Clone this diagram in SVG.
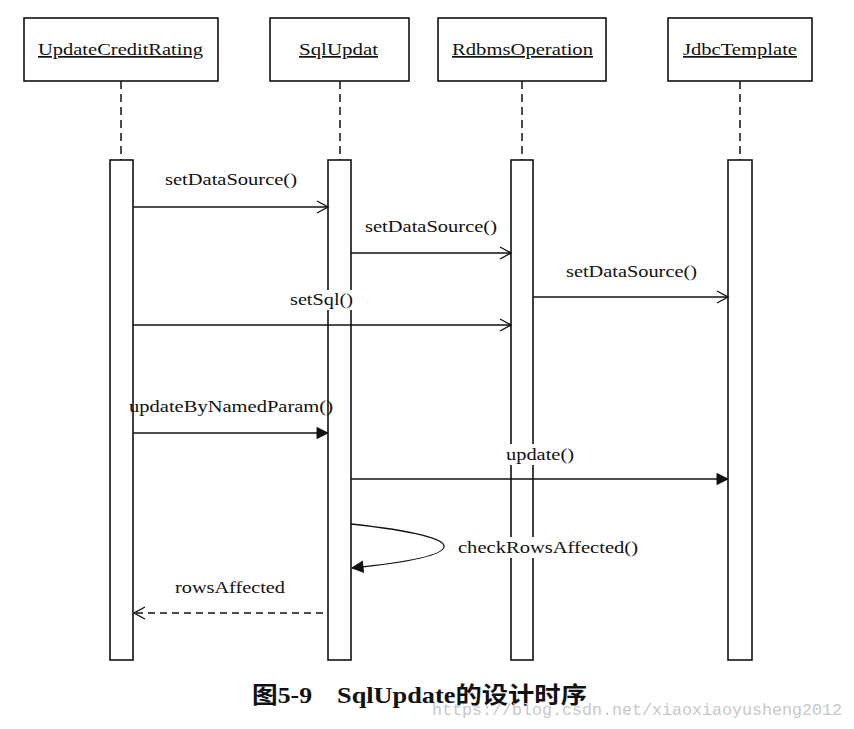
<svg xmlns="http://www.w3.org/2000/svg" width="854" height="729" viewBox="0 0 854 729">
<style>
.box{fill:#fff;stroke:#111;stroke-width:1.6}
.bar{fill:#fff;stroke:#111;stroke-width:1.6}
.life{stroke:#111;stroke-width:1.5;stroke-dasharray:8 5;fill:none}
.msg{stroke:#111;stroke-width:1.3;fill:none}
.ret{stroke:#111;stroke-width:1.3;fill:none;stroke-dasharray:7 5}
.t{font-family:"Liberation Serif","Times New Roman",serif;font-size:17px;fill:#111}
.name{font-family:"Liberation Serif","Times New Roman",serif;font-size:17px;fill:#111;text-decoration:underline}
.bg{fill:#fff}
.cap{font-family:"Liberation Serif","Noto Sans CJK SC",serif;font-size:23px;font-weight:bold;fill:#111}
.wm{font-family:"Liberation Mono","DejaVu Sans Mono",monospace;font-size:17px;fill:#c8c8c8}
</style>
<defs>
<marker id="open" markerWidth="14" markerHeight="14" refX="12" refY="7" orient="auto" markerUnits="userSpaceOnUse">
<path d="M1,1 L12,7 L1,13" fill="none" stroke="#111" stroke-width="1.4"/>
</marker>
<marker id="fill" markerWidth="14" markerHeight="14" refX="12" refY="7" orient="auto" markerUnits="userSpaceOnUse">
<path d="M1,1.5 L12,7 L1,12.5 Z" fill="#111" stroke="#111" stroke-width="1"/>
</marker>
</defs>

<g id="UpdateCreditRating">
<rect class="box" x="24" y="18" width="194" height="63"/>
<line class="life" x1="121" y1="81" x2="121" y2="160"/>
<rect class="bar" x="110" y="160" width="23" height="500"/>
<text class="name" x="38" y="55" textLength="165" lengthAdjust="spacingAndGlyphs">UpdateCreditRating</text>
</g>
<g id="SqlUpdat">
<rect class="box" x="270" y="18" width="139" height="63"/>
<line class="life" x1="340" y1="81" x2="340" y2="160"/>
<rect class="bar" x="328" y="160" width="23" height="500"/>
<text class="name" x="299" y="55" textLength="79" lengthAdjust="spacingAndGlyphs">SqlUpdat</text>
</g>
<g id="RdbmsOperation">
<rect class="box" x="438" y="18" width="168" height="63"/>
<line class="life" x1="522" y1="81" x2="522" y2="160"/>
<rect class="bar" x="511" y="160" width="22" height="500"/>
<text class="name" x="452" y="55" textLength="141" lengthAdjust="spacingAndGlyphs">RdbmsOperation</text>
</g>
<g id="JdbcTemplate">
<rect class="box" x="668" y="18" width="144" height="63"/>
<line class="life" x1="740" y1="81" x2="740" y2="160"/>
<rect class="bar" x="728" y="160" width="24" height="500"/>
<text class="name" x="683" y="55" textLength="114" lengthAdjust="spacingAndGlyphs">JdbcTemplate</text>
</g>

<g id="connectors">
<line class="msg" x1="133" y1="207" x2="328" y2="207" marker-end="url(#open)"/>
<text class="t" x="165" y="185" textLength="132" lengthAdjust="spacingAndGlyphs">setDataSource()</text>

<line class="msg" x1="351" y1="253" x2="511" y2="253" marker-end="url(#open)"/>
<text class="t" x="365" y="232" textLength="132" lengthAdjust="spacingAndGlyphs">setDataSource()</text>

<line class="msg" x1="533" y1="297" x2="728" y2="297" marker-end="url(#open)"/>
<text class="t" x="566" y="277" textLength="131" lengthAdjust="spacingAndGlyphs">setDataSource()</text>

<line class="msg" x1="133" y1="325" x2="511" y2="325" marker-end="url(#open)"/>
<rect class="bg" x="289" y="290" width="66" height="20"/>
<text class="t" x="290" y="305" textLength="63" lengthAdjust="spacingAndGlyphs">setSql()</text>

<line class="msg" x1="133" y1="433" x2="328" y2="433" marker-end="url(#fill)"/>
<text class="t" x="129" y="412" textLength="204" lengthAdjust="spacingAndGlyphs">updateByNamedParam()</text>

<line class="msg" x1="351" y1="479" x2="728" y2="479" marker-end="url(#fill)"/>
<rect class="bg" x="504" y="444" width="72" height="21"/>
<text class="t" x="506" y="460" textLength="68" lengthAdjust="spacingAndGlyphs">update()</text>

<path class="msg" d="M351,524 C480,538 470,556 352,568" marker-end="url(#fill)"/>
<rect class="bg" x="456" y="537" width="184" height="21"/>
<text class="t" x="458" y="553" textLength="180" lengthAdjust="spacingAndGlyphs">checkRowsAffected()</text>

<line class="ret" x1="323" y1="613" x2="134" y2="613" marker-end="url(#open)"/>
<text class="t" x="175" y="593" textLength="110" lengthAdjust="spacingAndGlyphs">rowsAffected</text>
</g>

<text class="cap" x="252" y="703" textLength="60" lengthAdjust="spacingAndGlyphs">图5-9</text>
<text class="cap" x="337" y="703" textLength="250" lengthAdjust="spacingAndGlyphs">SqlUpdate的设计时序</text>
<text class="wm" x="432" y="715" textLength="410" lengthAdjust="spacingAndGlyphs">https://blog.csdn.net/xiaoxiaoyusheng2012</text>
</svg>
